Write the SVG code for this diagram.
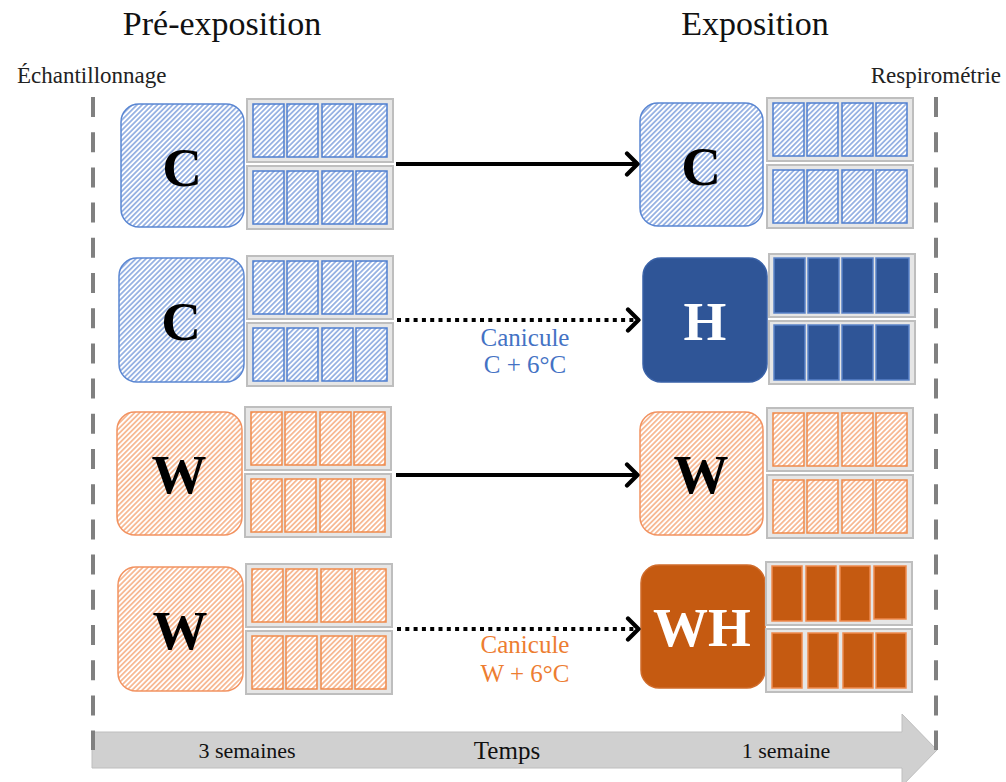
<svg xmlns="http://www.w3.org/2000/svg" xmlns:xlink="http://www.w3.org/1999/xlink" width="1006" height="782" viewBox="0 0 1006 782">
<style>
.title{font-family:"Liberation Serif","Times New Roman",serif;font-size:34px;fill:#111;}
.side{font-family:"Liberation Serif","Times New Roman",serif;font-size:23px;fill:#222;}
.big{font-family:"Liberation Serif","Times New Roman",serif;font-size:55px;font-weight:bold;text-anchor:middle;}
.lab{font-family:"Liberation Serif","Times New Roman",serif;font-size:25px;text-anchor:middle;}
.tl{font-family:"Liberation Serif","Times New Roman",serif;font-size:22px;fill:#111;text-anchor:middle;}
.box{fill:#E6E6E6;stroke:#BEBEBE;stroke-width:2;}
.cb{fill:url(#hb);stroke:#4F7FD0;stroke-width:1.5;}
.cw{fill:url(#ho);stroke:#F08A4B;stroke-width:1.5;}
.ch{fill:#2F5597;stroke:#5A82C8;stroke-width:1.5;}
.cwh{fill:#C55A11;stroke:#EE8A4E;stroke-width:1.5;}
.sqb{fill:url(#hb);stroke:#5A86D2;stroke-width:1.5;}
.sqw{fill:url(#ho);stroke:#F29260;stroke-width:1.5;}
.dash{stroke:#808080;stroke-width:4;stroke-dasharray:20 15.2;fill:none;}
.solid{stroke:#000;stroke-width:3.8;fill:none;marker-end:url(#chev);}
.dot{stroke:#000;stroke-width:4;stroke-dasharray:4 4.3;fill:none;marker-end:url(#chev);}
</style>
<defs>
<pattern id="hb" width="3.6" height="3.6" patternUnits="userSpaceOnUse" patternTransform="rotate(45)">
<rect width="3.6" height="3.6" fill="#FFFFFF"/>
<line x1="1.8" y1="0" x2="1.8" y2="3.6" stroke="#7A9DDC" stroke-width="1.4"/>
</pattern>
<pattern id="ho" width="3.6" height="3.6" patternUnits="userSpaceOnUse" patternTransform="rotate(45)">
<rect width="3.6" height="3.6" fill="#FFFFFF"/>
<line x1="1.8" y1="0" x2="1.8" y2="3.6" stroke="#F5A676" stroke-width="1.4"/>
</pattern>
<marker id="chev" viewBox="0 0 16 26" refX="14" refY="13" markerWidth="16" markerHeight="26" markerUnits="userSpaceOnUse" orient="auto">
<path d="M3,2.5 L13.5,13 L3,23.5" fill="none" stroke="#000" stroke-width="4.2" stroke-linecap="round" stroke-linejoin="round"/>
</marker>
<g id="gB">
<rect class="box" x="0" y="0" width="146" height="63"/>
<rect class="cb" x="6" y="5" width="31" height="53"/>
<rect class="cb" x="40" y="5" width="31" height="53"/>
<rect class="cb" x="75" y="5" width="31" height="53"/>
<rect class="cb" x="109" y="5" width="31" height="53"/>
<rect class="box" x="0" y="67" width="146" height="63"/>
<rect class="cb" x="6" y="72" width="31" height="53"/>
<rect class="cb" x="40" y="72" width="31" height="53"/>
<rect class="cb" x="75" y="72" width="31" height="53"/>
<rect class="cb" x="109" y="72" width="31" height="53"/>
</g>
<g id="gO">
<rect class="box" x="0" y="0" width="146" height="63"/>
<rect class="cw" x="6" y="5" width="31" height="53"/>
<rect class="cw" x="40" y="5" width="31" height="53"/>
<rect class="cw" x="75" y="5" width="31" height="53"/>
<rect class="cw" x="109" y="5" width="31" height="53"/>
<rect class="box" x="0" y="67" width="146" height="63"/>
<rect class="cw" x="6" y="72" width="31" height="53"/>
<rect class="cw" x="40" y="72" width="31" height="53"/>
<rect class="cw" x="75" y="72" width="31" height="53"/>
<rect class="cw" x="109" y="72" width="31" height="53"/>
</g>
<g id="gH">
<rect class="box" x="0" y="0" width="146" height="63"/>
<rect class="ch" x="5" y="4" width="31" height="55"/>
<rect class="ch" x="39" y="4" width="31" height="55"/>
<rect class="ch" x="73" y="4" width="31" height="55"/>
<rect class="ch" x="107" y="4" width="33" height="55"/>
<rect class="box" x="0" y="67" width="146" height="63"/>
<rect class="ch" x="5" y="71" width="31" height="55"/>
<rect class="ch" x="39" y="71" width="31" height="55"/>
<rect class="ch" x="73" y="71" width="31" height="55"/>
<rect class="ch" x="107" y="71" width="33" height="55"/>
</g>
<g id="gWH">
<rect class="box" x="0" y="0" width="146" height="63"/>
<rect class="cwh" x="6" y="4" width="30" height="55"/>
<rect class="cwh" x="40" y="4" width="30" height="55"/>
<rect class="cwh" x="74" y="4" width="30" height="55"/>
<rect class="cwh" x="108" y="4" width="32" height="53"/>
<rect class="box" x="0" y="67" width="146" height="63"/>
<rect class="cwh" x="6" y="71" width="30" height="55"/>
<rect class="cwh" x="42" y="71" width="30" height="55"/>
<rect class="cwh" x="77" y="71" width="30" height="55"/>
<rect class="cwh" x="110" y="71" width="30" height="55"/>
</g>
</defs>

<rect width="1006" height="782" fill="#FFFFFF"/>

<g id="headers">
<text class="title" x="222" y="35" text-anchor="middle">Pré-exposition</text>
<text class="title" x="755" y="35" text-anchor="middle">Exposition</text>
<text class="side" x="17" y="83">Échantillonnage</text>
<text class="side" x="1001" y="83" text-anchor="end">Respirométrie</text>
</g>

<g id="timeline">
<polygon points="92,732 902,732 902,714 937,750 902,786 902,768 92,768" fill="#D0D0D0" stroke="#BEBEBE" stroke-width="1"/>
<text class="tl" x="247" y="758">3 semaines</text>
<text class="tl" x="507" y="759" style="font-size:25px">Temps</text>
<text class="tl" x="786" y="758">1 semaine</text>
</g>

<g id="boundaries">
<line class="dash" x1="93" y1="97" x2="93" y2="750"/>
<line class="dash" x1="936" y1="97" x2="936" y2="750"/>
</g>

<g id="pre-C1">
<rect class="sqb" x="121" y="104" width="123" height="123" rx="18"/>
<text class="big" x="182" y="186" fill="#000">C</text>
<use xlink:href="#gB" x="247" y="99"/>
</g>
<g id="exp-C">
<rect class="sqb" x="640" y="103" width="123" height="123" rx="18"/>
<text class="big" x="701" y="185" fill="#000">C</text>
<use xlink:href="#gB" x="767" y="98"/>
</g>

<g id="pre-C2">
<rect class="sqb" x="119" y="258" width="125" height="124" rx="18"/>
<text class="big" x="181" y="340" fill="#000">C</text>
<use xlink:href="#gB" x="247" y="256"/>
</g>
<g id="exp-H">
<rect x="643" y="258" width="124" height="124" rx="18" fill="#2F5597" stroke="#3A62A8" stroke-width="1.5"/>
<text class="big" x="705" y="340" fill="#FFFFFF">H</text>
<use xlink:href="#gH" x="769" y="254"/>
</g>

<g id="pre-W1">
<rect class="sqw" x="117" y="412" width="125" height="123" rx="18"/>
<text class="big" x="179" y="493" fill="#000">W</text>
<use xlink:href="#gO" x="245" y="407"/>
</g>
<g id="exp-W">
<rect class="sqw" x="640" y="412" width="123" height="123" rx="18"/>
<text class="big" x="701" y="493" fill="#000">W</text>
<use xlink:href="#gO" x="767" y="408"/>
</g>

<g id="pre-W2">
<rect class="sqw" x="118" y="567" width="125" height="124" rx="18"/>
<text class="big" x="180" y="649" fill="#000">W</text>
<use xlink:href="#gO" x="246" y="564"/>
</g>
<g id="exp-WH">
<rect x="641" y="565" width="124" height="123" rx="18" fill="#C55A11" stroke="#D06B2A" stroke-width="1.5"/>
<text class="big" x="702" y="646" fill="#FFFFFF">WH</text>
<use xlink:href="#gWH" x="766" y="562"/>
</g>

<g id="connectors">
<path class="solid" d="M396,164 L638,164"/>
<path class="dot" d="M397,320 L639,320"/>
<path class="solid" d="M396,475 L638,475"/>
<path class="dot" d="M397,629 L639,629"/>
<text class="lab" x="525" y="346" fill="#4472C4">Canicule</text>
<text class="lab" x="525" y="373" fill="#4472C4">C + 6°C</text>
<text class="lab" x="525" y="653" fill="#ED7D31">Canicule</text>
<text class="lab" x="525" y="682" fill="#ED7D31">W + 6°C</text>
</g>
</svg>
